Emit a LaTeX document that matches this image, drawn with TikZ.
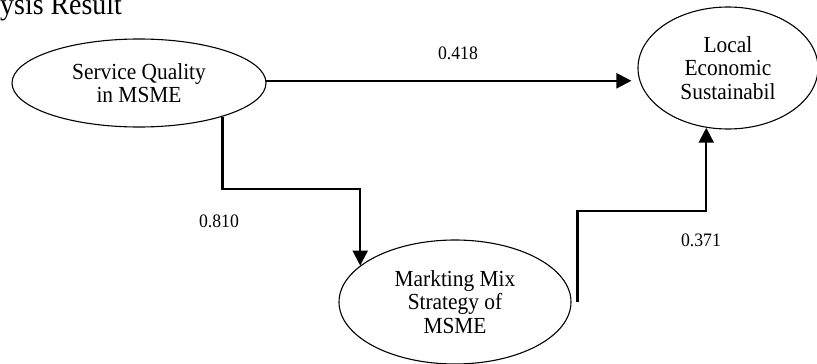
\documentclass[tikz,border=0pt]{standalone}
\usepackage{fontspec}
\setmainfont{Liberation Serif}[FakeStretch=0.93]
\usetikzlibrary{arrows.meta,shapes.geometric,calc}
\tikzset{
  latentNode/.style={draw, ellipse, line width=1.1pt, inner sep=0pt, align=center, font=\fontsize{23}{23.5}\selectfont},
  pathArrow/.style={-{Triangle[length=15pt,width=15pt]}, line width=2.2pt},
  coefLabel/.style={inner sep=0pt, font=\fontsize{19}{19}\selectfont}
}

\begin{document}
\begin{tikzpicture}[x=1pt, y=-1pt]
  \useasboundingbox (0,0) rectangle (817,364);
  \node[anchor=base west, inner sep=0pt, font=\fontsize{30}{30}\selectfont] (title) at (0,14) {ysis Result};
  % latent variables
  \node[latentNode, minimum width=254pt, minimum height=88pt] (sq) at (139,83) {Service Quality\\ in MSME};
  \node[latentNode, minimum width=180pt, minimum height=122pt] (lec) at (728,68) {Local\\ Economic\\ Sustainabil};
  \node[latentNode, minimum width=232pt, minimum height=124pt] (mms) at (455,302) {Markting Mix\\ Strategy of\\ MSME};
  % paths
  \coordinate (bendA) at (290,189);
  \coordinate (bendB) at (640,211);
  \draw[pathArrow, shorten >=6pt] (sq.1.4) -- (sq.1.4 -| lec.west);
  \draw[pathArrow] (sq.-22.5) |- (bendA) -| (mms.159);
  \draw[pathArrow] ([xshift=6pt]mms.east) |- (bendB) -| (lec.250);
  \node[coefLabel] (c1) at (458,53) {0.418};
  \node[coefLabel] (c2) at (219,221) {0.810};
  \node[coefLabel] (c3) at (701,240) {0.371};
\end{tikzpicture}
\end{document}
